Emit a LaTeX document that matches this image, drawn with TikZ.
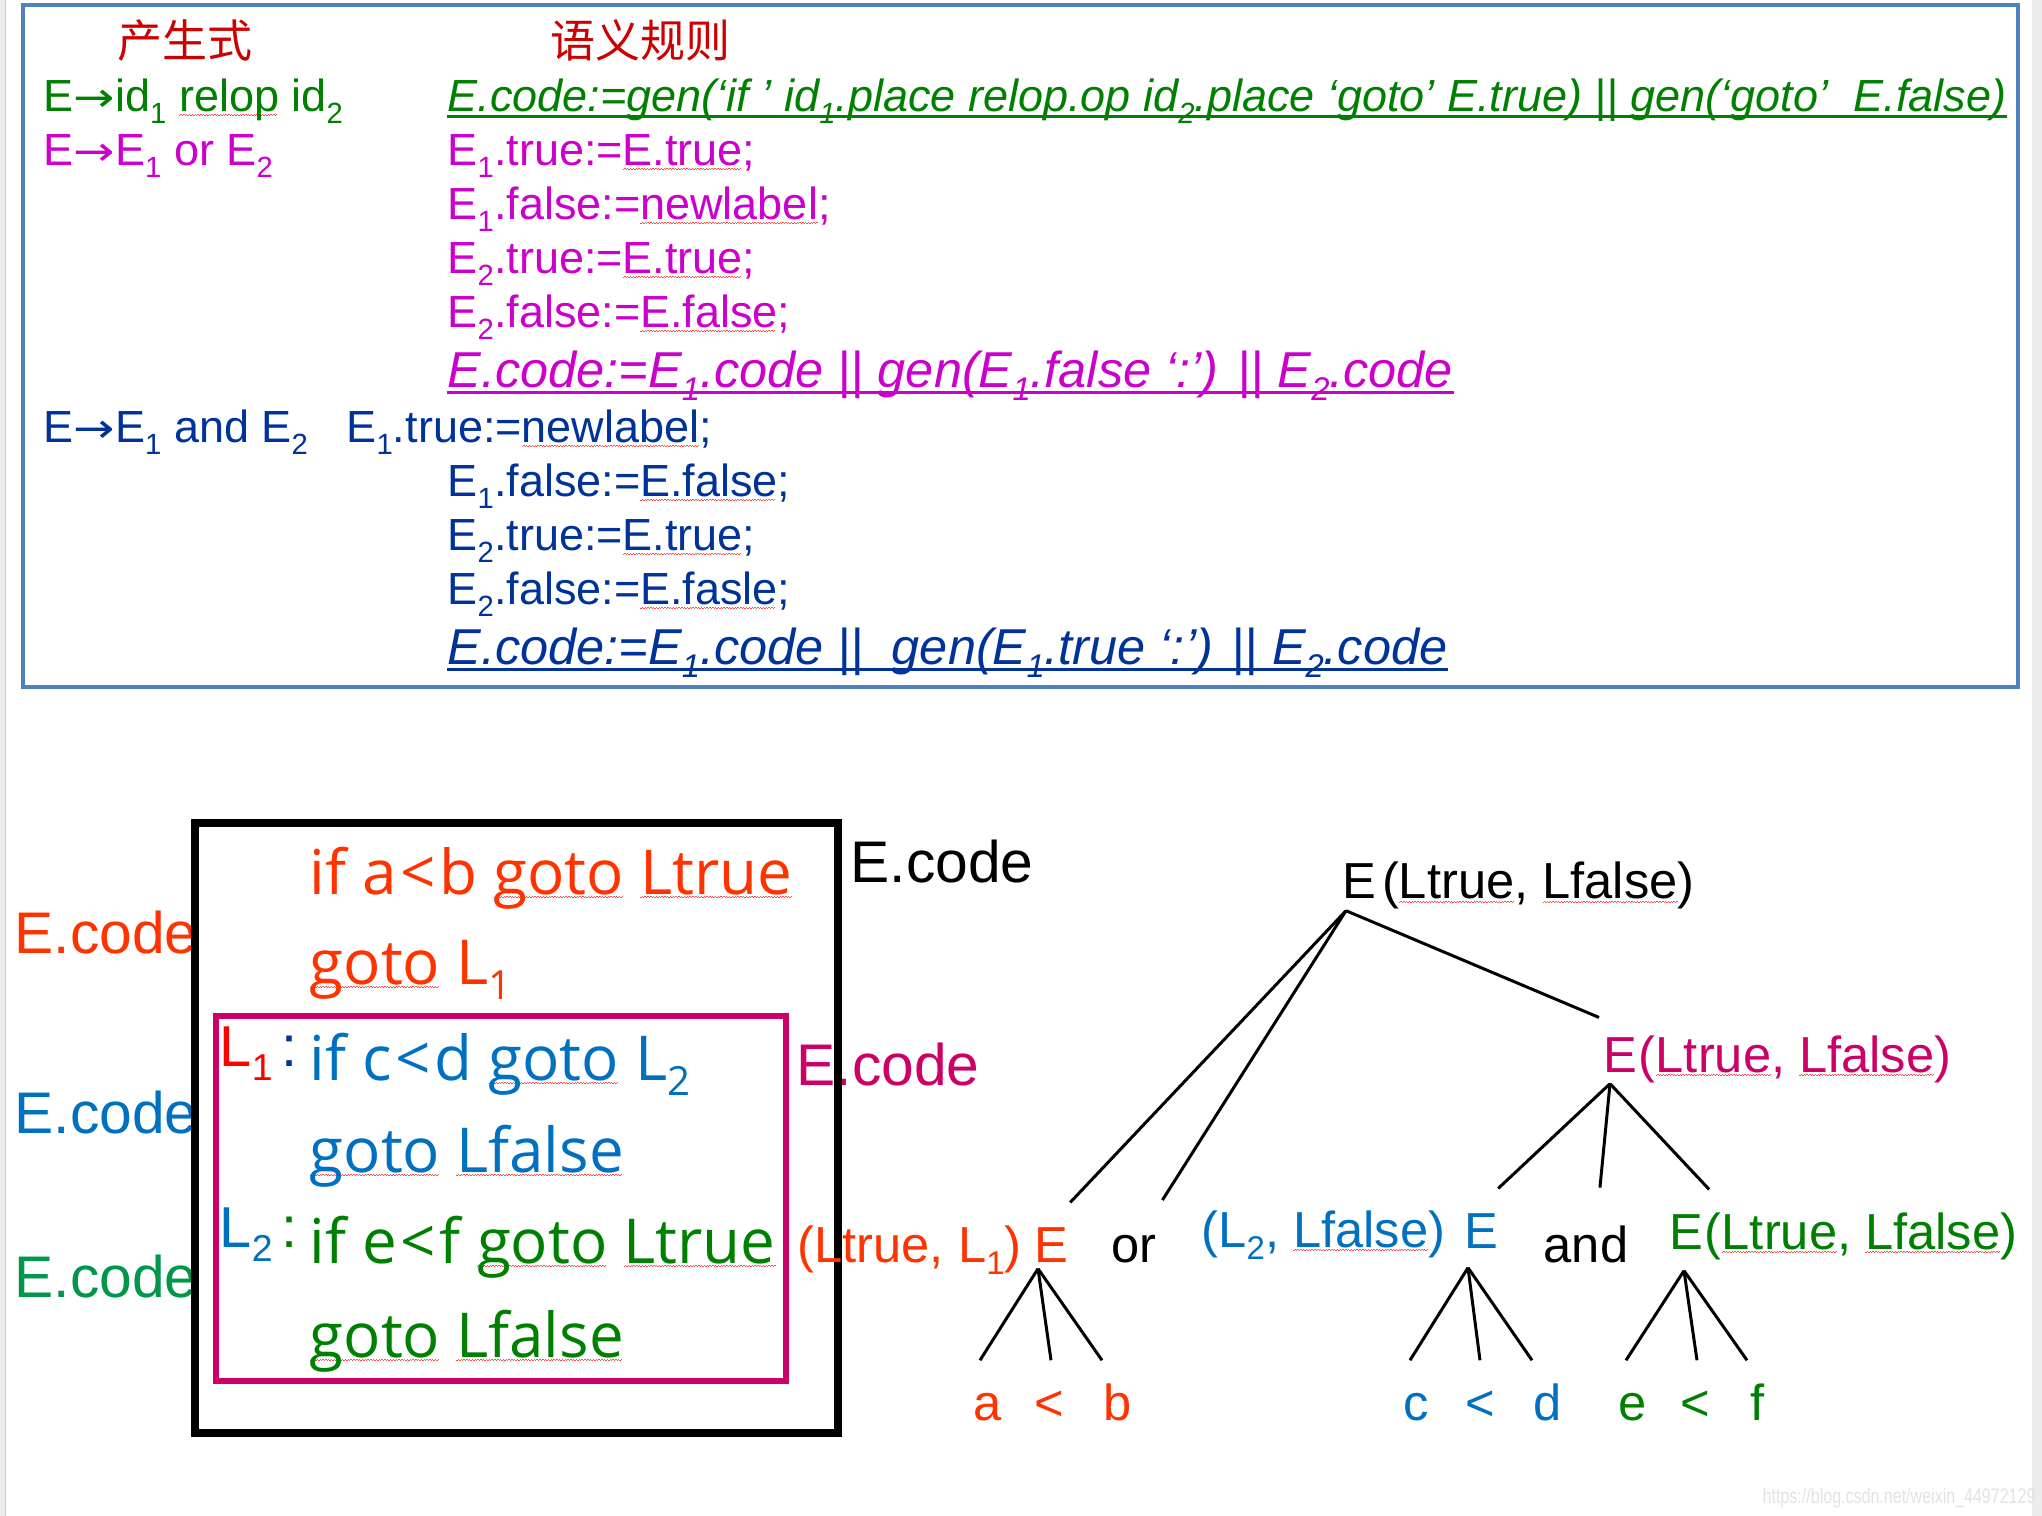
\documentclass[tikz,border=0pt]{standalone}
\usepackage{fontspec}
\setmainfont{Liberation Sans}
\newfontfamily\codefont{Open Sans}
\newfontfamily\cjkfont{Noto Sans CJK SC}
\newfontfamily\symfont{DejaVu Sans}
\usetikzlibrary{positioning}

\definecolor{hdrred}{HTML}{CC0000}
\definecolor{prodgreen}{HTML}{008000}
\definecolor{ormagenta}{HTML}{CC00CC}
\definecolor{andblue}{HTML}{003399}
\definecolor{boxblue}{HTML}{4F81BD}
\definecolor{codeorange}{HTML}{FF3300}
\definecolor{codeblue}{HTML}{0070C0}
\definecolor{codegreen}{HTML}{008000}
\definecolor{crimson}{HTML}{CC0066}
\definecolor{tealgreen}{HTML}{00964B}

\newcommand\sbs[1]{\raisebox{-0.25em}{\scalebox{0.65}{#1}}}
\newcommand\arr{{\symfont\scalebox{1.1}[0.9]{→}}}
\newcommand\lt{\kern0.06em<\kern0.06em}
\newsavebox\spellbox
\newcommand\spell[1]{\sbox\spellbox{#1}\rlap{\color{red!70}\leaders\hbox{\rule[-1.1pt]{0.4pt}{0.3pt}\rule[-0.8pt]{0.4pt}{0.3pt}}\hskip\wd\spellbox}\usebox\spellbox}

\tikzset{
  txt/.style={inner sep=0pt, anchor=base west},
  body/.style={txt, font=\fontsize{12.8}{15}\selectfont},
  bodyit/.style={txt, font=\fontsize{12.8}{15}\selectfont\itshape},
  hdr/.style={txt, font=\cjkfont\fontsize{12.8}{15}\selectfont, text=hdrred},
  rulebig/.style={txt, font=\fontsize{14.35}{17}\selectfont\itshape},
  ecode/.style={txt, font=\fontsize{16.7}{20}\selectfont},
  code/.style={txt, font=\codefont\fontsize{17.6}{21}\selectfont},
  lbl/.style={txt, font=\fontsize{16.4}{19}\selectfont},
  tree/.style={txt, font=\fontsize{14.4}{17}\selectfont},
  leaf/.style={tree, anchor=base, text height=0.36cm, text depth=0pt},
  edge/.style={line width=0.85pt},
  uline/.style={line width=0.8pt},
}

\begin{document}
\begin{tikzpicture}[x=0.01cm, y=-0.01cm]
  \useasboundingbox (0,0) rectangle (2042,1516);
  \fill[white] (0,0) rectangle (2042,1516);
  \fill[gray!15] (0,0) rectangle (5,1516);
  \draw[gray!40, line width=0.3pt] (5.5,0) -- (5.5,1516);
  \fill[gray!15] (2032,0) rectangle (2042,1516);

  \draw[boxblue, line width=1.15pt] (23,5) rectangle (2018,687);

  \node (h1) at (117,58) [hdr] {产生式};
  \node (h2) at (550,58) [hdr] {语义规则};

  \node (p1) at (43,112) [body, text=prodgreen] {E\arr id\sbs{1} \spell{relop} id\sbs{2}};
  \node (r1) at (447,112) [bodyit, text=prodgreen] {E.code:=gen(‘if ’ id\sbs{1}.place relop.op id\sbs{2}.place ‘goto’ E.true) || gen(‘goto’ \ E.false)};
  \draw[uline, prodgreen] ([yshift=-1.2pt]r1.base west) -- ([yshift=-1.2pt]r1.base east);

  \node (p2) at (43,166) [body, text=ormagenta] {E\arr E\sbs{1} or E\sbs{2}};
  \node (r2) at (447,166) [body, text=ormagenta] {E\sbs{1}.true:=\spell{E.true};};
  \node (r3) at (447,220) [body, text=ormagenta] {E\sbs{1}.false:=\spell{newlabel};};
  \node (r4) at (447,274) [body, text=ormagenta] {E\sbs{2}.true:=\spell{E.true};};
  \node (r5) at (447,328) [body, text=ormagenta] {E\sbs{2}.false:=\spell{E.false};};
  \node (r6) at (447,388) [rulebig, text=ormagenta] {E.code:=E\sbs{1}.code || gen(E\sbs{1}.false ‘:’) || E\sbs{2}.code};
  \draw[uline, ormagenta] ([yshift=-1.3pt]r6.base west) -- ([yshift=-1.3pt]r6.base east);

  \node (p3) at (43,443) [body, text=andblue] {E\arr E\sbs{1} and E\sbs{2}};
  \node (r7) at (346,443) [body, text=andblue] {E\sbs{1}.true:=\spell{newlabel};};
  \node (r8) at (447,497) [body, text=andblue] {E\sbs{1}.false:=\spell{E.false};};
  \node (r9) at (447,551) [body, text=andblue] {E\sbs{2}.true:=\spell{E.true};};
  \node (r10) at (447,605) [body, text=andblue] {E\sbs{2}.false:=\spell{E.fasle};};
  \node (r11) at (447,665) [rulebig, text=andblue] {E.code:=E\sbs{1}.code || \ gen(E\sbs{1}.true ‘:’) || E\sbs{2}.code};
  \draw[uline, andblue] ([yshift=-1.3pt]r11.base west) -- ([yshift=-1.3pt]r11.base east);

  \node (eo) at (14,953) [ecode, text=codeorange] {E.code};
  \node (eb) at (14,1133) [ecode, text=codeblue] {E.code};
  \node (eg) at (14,1297) [ecode, text=tealgreen] {E.code};
  \node (ek) at (850,883) [ecode] {E.code};
  \node (em) at (796,1085) [ecode, text=crimson] {E.code};

  \node (c1) at (309,894) [code, text=codeorange] {if a\lt b \spell{goto} \spell{Ltrue}};
  \node (c2) at (309,984) [code, text=codeorange] {\spell{goto} L\sbs{1}};
  \node (l1) at (219,1066) [lbl] {\textcolor{red}{L\sbs{1}}\hspace{0.15em}\textcolor{andblue}{:}};
  \node (c3) at (309,1080) [code, text=codeblue] {if c\lt d \spell{goto} L\sbs{2}};
  \node (c4) at (309,1172) [code, text=codeblue] {\spell{goto} \spell{Lfalse}};
  \node (l2) at (219,1247) [lbl] {\textcolor{codeblue}{L\sbs{2}}\hspace{0.15em}\textcolor{codegreen}{:}};
  \node (c5) at (309,1263) [code, text=codegreen] {if e\lt f \spell{goto} \spell{Ltrue}};
  \node (c6) at (309,1357) [code, text=codegreen] {\spell{goto} \spell{Lfalse}};

  \draw[crimson, line width=1.7pt] (216,1016) rectangle (786,1381);
  \draw[line width=2.3pt] (195,823) rectangle (838,1433);

  \node (rE) at (1342,899) [tree] {E};
  \node (rArgs) at ([xshift=1.2pt]rE.base east) [tree] {(\spell{Ltrue}, \spell{Lfalse})};
  \node (mE) at (1603,1072) [tree, text=crimson] {E};
  \node (mArgs) at (mE.base east) [tree, text=crimson] {(\spell{Ltrue}, \spell{Lfalse})};
  \node (oArgs) at (797,1262) [tree, text=codeorange] {(Ltrue, L\sbs{1})};
  \node (oE) at (1034,1262) [tree, text=codeorange] {E};
  \node (orOp) at (1111,1262) [tree] {or};
  \node (bArgs) at (1201,1247) [tree, text=codeblue] {(L\sbs{2}, \spell{Lfalse})};
  \node (bE) at (1464,1248) [tree, text=codeblue] {E};
  \node (andOp) at (1543,1262) [tree] {and};
  \node (gE) at (1669,1249) [tree, text=codegreen] {E};
  \node (gArgs) at (gE.base east) [tree, text=codegreen] {(\spell{Ltrue}, \spell{Lfalse})};

  \node (la) at (988,1420) [leaf, text=codeorange] {a};
  \node (lt1) at (1049,1420) [leaf, text=codeorange] {<};
  \node (lb) at (1118,1420) [leaf, text=codeorange] {b};
  \node (lc) at (1416,1420) [leaf, text=codeblue] {c};
  \node (lt2) at (1480,1420) [leaf, text=codeblue] {<};
  \node (ld) at (1548,1420) [leaf, text=codeblue] {d};
  \node (le) at (1633,1420) [leaf, text=codegreen] {e};
  \node (lt3) at (1695,1420) [leaf, text=codegreen] {<};
  \node (lf) at (1758,1420) [leaf, text=codegreen] {f};

  \draw[edge] ([shift={(4,11)}]rE.south west) -- ([shift={(1,-24)}]oE.north east);
  \draw[edge] ([shift={(4,11)}]rE.south west) -- ([shift={(5,-34)}]orOp.north east);
  \draw[edge] ([shift={(4,11)}]rE.south west) -- ([shift={(-4,-19)}]mE.north west);

  \draw[edge] ([shift={(7,11)}]mE.south west) -- ([shift={(-1,-24)}]bE.north east);
  \draw[edge] ([shift={(7,11)}]mE.south west) -- ([shift={(14,-37)}]andOp.north);
  \draw[edge] ([shift={(7,11)}]mE.south west) -- ([shift={(5,-24)}]gE.north east);

  \draw[edge] ([shift={(4,6)}]oE.south west) -- ([shift={(-8,-23)}]la.north);
  \draw[edge] ([shift={(4,6)}]oE.south west) -- ([shift={(2,-23)}]lt1.north);
  \draw[edge] ([shift={(4,6)}]oE.south west) -- ([shift={(-16,-23)}]lb.north);

  \draw[edge] ([shift={(4,19)}]bE.south west) -- ([shift={(-6,-23)}]lc.north);
  \draw[edge] ([shift={(4,19)}]bE.south west) -- ([shift={(0,-23)}]lt2.north);
  \draw[edge] ([shift={(4,19)}]bE.south west) -- ([shift={(-16,-23)}]ld.north);

  \draw[edge] ([shift={(15,21)}]gE.south west) -- ([shift={(-7,-23)}]le.north);
  \draw[edge] ([shift={(15,21)}]gE.south west) -- ([shift={(2,-23)}]lt3.north);
  \draw[edge] ([shift={(15,21)}]gE.south west) -- ([shift={(-11,-23)}]lf.north);

  \node (wm) at (1762,1503) [txt, font=\fontsize{6}{7}\selectfont, text=gray!22] {\scalebox{0.76}[1]{https://blog.csdn.net/weixin\_44972129}};
\end{tikzpicture}
\end{document}
